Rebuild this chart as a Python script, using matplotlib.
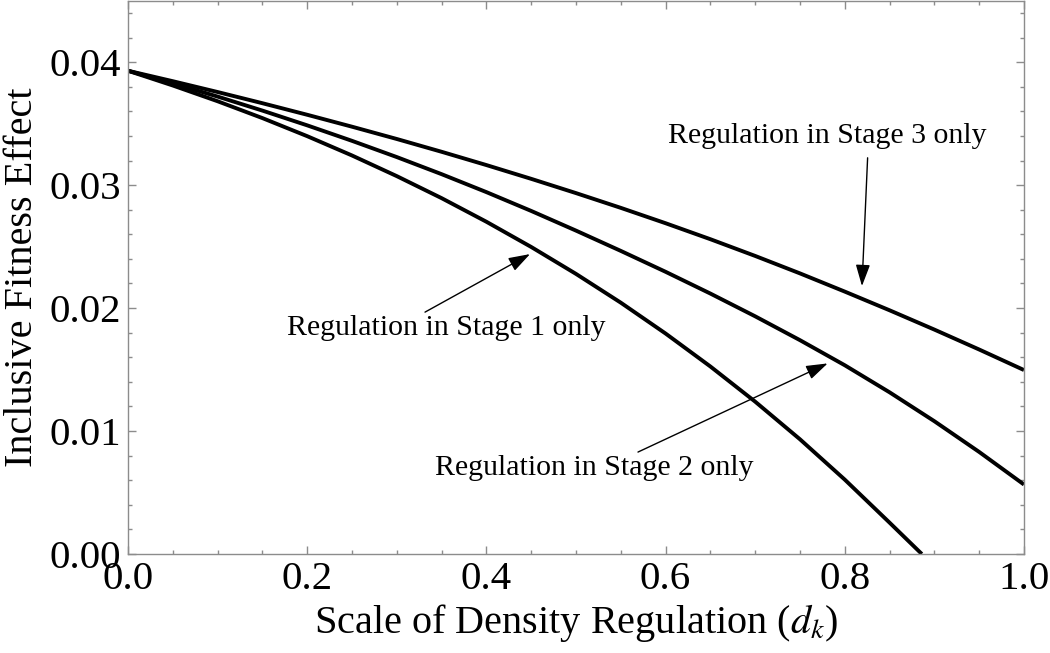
import numpy as np
import matplotlib
matplotlib.use('Agg')
import matplotlib.pyplot as plt
from matplotlib.ticker import MultipleLocator

plt.rcParams['font.family'] = ['Liberation Serif', 'DejaVu Serif']
plt.rcParams['mathtext.fontset'] = 'stix'

# values
x = [0.0, 0.05, 0.1, 0.15, 0.2, 0.25, 0.3, 0.35, 0.4, 0.45, 0.5,
     0.55, 0.6, 0.65, 0.7, 0.75, 0.8, 0.85, 0.9, 0.95, 1.0]
stage3 = [0.0393, 0.03845, 0.03757, 0.03666, 0.03572, 0.03475, 0.03375, 0.03271, 0.03163, 0.03051, 0.02935,
          0.02815, 0.0269, 0.0256, 0.02424, 0.02282, 0.02134, 0.01982, 0.01825, 0.01663, 0.01496]
stage2 = [0.0393, 0.03828, 0.0372, 0.03606, 0.03486, 0.0336, 0.03228, 0.03089, 0.02943, 0.0279, 0.0263,
          0.02465, 0.02295, 0.02118, 0.01933, 0.01739, 0.01535, 0.01315, 0.0108, 0.0083, 0.00565]
x1 = [0.0, 0.05, 0.1, 0.15, 0.2, 0.25, 0.3, 0.35, 0.4, 0.45, 0.5,
      0.55, 0.6, 0.65, 0.7, 0.75, 0.8, 0.85, 0.886]
stage1 = [0.0393, 0.0381, 0.03682, 0.03545, 0.03398, 0.03241, 0.03073, 0.02894, 0.02702, 0.02497, 0.02278,
          0.02044, 0.01793, 0.01525, 0.01239, 0.00933, 0.00605, 0.00255, 0.0]

labels = ['Regulation in Stage 1 only', 'Regulation in Stage 2 only', 'Regulation in Stage 3 only']

fig = plt.figure(figsize=(10.5, 6.53), dpi=100)
ax = fig.add_axes([0.1219, 0.1516, 0.8533, 0.8474])

for xs, ys in [(x1, stage1), (x, stage2), (x, stage3)]:
    ax.plot(xs, ys, color='black', lw=2.8, solid_capstyle='butt', solid_joinstyle='round')

ax.set_xlim(0, 1)
ax.set_ylim(0, 0.045)
ax.xaxis.set_major_locator(MultipleLocator(0.2))
ax.xaxis.set_minor_locator(MultipleLocator(0.05))
ax.yaxis.set_major_locator(MultipleLocator(0.01))
ax.yaxis.set_minor_locator(MultipleLocator(0.002))
ax.xaxis.set_major_formatter(plt.FuncFormatter(lambda v, p: '%.1f' % v))
ax.yaxis.set_major_formatter(plt.FuncFormatter(lambda v, p: '%.2f' % v))

for s in ax.spines.values():
    s.set_color('#8c8c8c')
    s.set_linewidth(1.0)
ax.tick_params(which='both', direction='in', top=True, right=True, color='#8c8c8c', width=1.0)
ax.tick_params(which='major', length=6, labelsize=29.5, pad=5)
ax.tick_params(which='minor', length=3)

ax.set_xlabel('Scale of Density Regulation ($d_k$)', fontsize=29, va='center')
ax.set_ylabel('Inclusive Fitness Effect', fontsize=29, va='center')
ax.xaxis.set_label_coords(0.5, -0.125)
ax.yaxis.set_label_coords(-0.118, 0.5)

ax.text(0.355, 0.0178, labels[0], fontsize=21.5, ha='center', va='baseline')
ax.text(0.5206, 0.00642, labels[1], fontsize=21.5, ha='center', va='baseline')
ax.text(0.781, 0.03341, labels[2], fontsize=21.5, ha='center', va='baseline')

arrow = dict(arrowstyle='-|>,head_length=0.6,head_width=0.2', color='black', lw=1.0,
             mutation_scale=22, shrinkA=0, shrinkB=0)
ax.annotate('', xy=(0.4487, 0.02439), xytext=(0.3315, 0.01967), arrowprops=arrow)
ax.annotate('', xy=(0.7809, 0.0155), xytext=(0.5692, 0.00829), arrowprops=arrow)
ax.annotate('', xy=(0.8192, 0.02179), xytext=(0.8255, 0.03222), arrowprops=arrow)

fig.savefig('out.png', dpi=100)
